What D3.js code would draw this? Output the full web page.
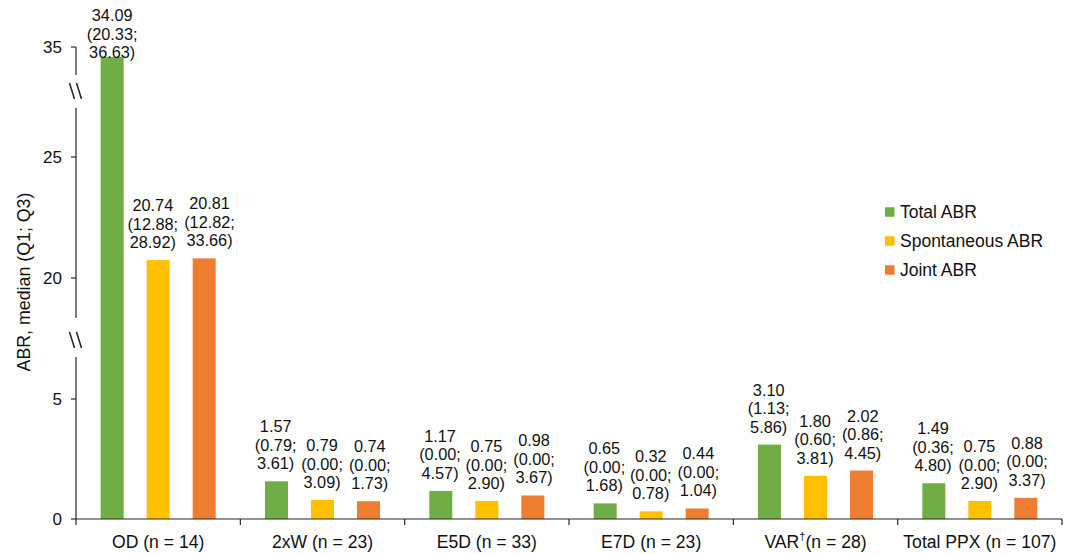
<!DOCTYPE html>
<html>
<head>
<meta charset="utf-8">
<script src="https://cdn.jsdelivr.net/npm/d3@7"></script>
<style>
  html, body { margin: 0; padding: 0; background: #fff; }
  svg { display: block; font-family: "Liberation Sans", Arial, Helvetica, sans-serif; }
</style>
</head>
<body>
<svg id="chart" width="1075" height="554"></svg>
<script>
// ---------- data ----------
const categoryNames = ["OD", "2xW", "E5D", "E7D", "VAR", "Total PPX"];
const categoryN = [14, 23, 33, 23, 28, 107];
const categoryMarks = ["", "", "", "", "\u2020", ""];

const seriesNames = ["Total ABR", "Spontaneous ABR", "Joint ABR"];
const seriesColors = ["#70AD47", "#FFC000", "#ED7D31"];

const totalMedian = [34.09, 1.57, 1.17, 0.65, 3.10, 1.49];
const totalQ1     = [20.33, 0.79, 0.00, 0.00, 1.13, 0.36];
const totalQ3     = [36.63, 3.61, 4.57, 1.68, 5.86, 4.80];

const spontMedian = [20.74, 0.79, 0.75, 0.32, 1.80, 0.75];
const spontQ1     = [12.88, 0.00, 0.00, 0.00, 0.60, 0.00];
const spontQ3     = [28.92, 3.09, 2.90, 0.78, 3.81, 2.90];

const jointMedian = [20.81, 0.74, 0.98, 0.44, 2.02, 0.88];
const jointQ1     = [12.82, 0.00, 0.00, 0.00, 0.86, 0.00];
const jointQ3     = [33.66, 1.73, 3.67, 1.04, 4.45, 3.37];

const yTicks = [0, 5, 20, 25, 35];
const yTitle = "ABR, median (Q1; Q3)";

// ---------- layout ----------
const svg = d3.select("#chart");
const axisColor = "#262626";
const textColor = "#111";
const x0 = 76, x1 = 1062, yBase = 519;

const medians = [totalMedian, spontMedian, jointMedian];
const q1s = [totalQ1, spontQ1, jointQ1];
const q3s = [totalQ3, spontQ3, jointQ3];

const rows = [];
categoryNames.forEach((c, ci) => {
  seriesNames.forEach((s, si) => {
    rows.push({ cat: c, ci, series: s, si, med: medians[si][ci], q1: q1s[si][ci], q3: q3s[si][ci] });
  });
});

// broken (piecewise) y scale
const y = d3.scaleLinear().domain(yTicks).range([yBase, 399, 278, 157, 47]);

const xCat = d3.scaleBand().domain(categoryNames).range([x0, x1]).paddingInner(0).paddingOuter(0);
const bw = xCat.bandwidth();
const xSer = d3.scaleBand().domain(seriesNames)
  .range([bw / 2 - 69, bw / 2 + 69]).paddingInner(0.5).paddingOuter(0.25);

// ---------- bars ----------
svg.append("g").selectAll("rect").data(rows).join("rect")
  .attr("x", d => xCat(d.cat) + xSer(d.series))
  .attr("y", d => y(d.med))
  .attr("width", xSer.bandwidth())
  .attr("height", d => yBase - y(d.med))
  .attr("fill", d => seriesColors[d.si]);

// ---------- value labels ----------
const f = d3.format(".2f");
const lineH = 18.5;
const labG = svg.append("g").attr("font-size", 16.3).attr("fill", textColor).attr("text-anchor", "middle");
const labels = [];
rows.forEach(d => {
  const cx = xCat(d.cat) + xSer(d.series) + xSer.bandwidth() / 2;
  const lastBase = Math.max(y(d.med) - 12, 21 + 2 * lineH);
  const lines = [f(d.med), "(" + f(d.q1) + ";", f(d.q3) + ")"];
  const t = labG.append("text");
  const spans = lines.map((l, i) =>
    t.append("tspan").attr("x", cx).attr("y", lastBase - (2 - i) * lineH).text(l));
  const w = d3.max(spans, s => s.node().getComputedTextLength());
  labels.push({ d, t, spans, cx, w, top: lastBase - 2 * lineH - 13, bottom: lastBase + 4 });
});
// simple collision avoidance between neighbouring labels in a group
const gap = 6;
categoryNames.forEach(c => {
  const L = labels.filter(l => l.d.cat === c);
  for (let i = 0; i < L.length - 1; i++) {
    const a = L[i], b = L[i + 1];
    const vOverlap = a.top < b.bottom && b.top < a.bottom;
    const need = (a.cx + a.w / 2 + gap) - (b.cx - b.w / 2);
    if (vOverlap && need > 0) { a.cx -= need / 2; b.cx += need / 2; }
  }
  L.forEach(l => l.spans.forEach(s => s.attr("x", l.cx)));
});

// ---------- y axis (with breaks) ----------
const axG = svg.append("g").attr("stroke", axisColor).attr("stroke-width", 1.2).attr("fill", "none");
const segments = [[y(35), 75], [108, 318], [357, yBase]];
segments.forEach(s => {
  axG.append("line").attr("x1", x0).attr("x2", x0).attr("y1", s[0]).attr("y2", s[1]);
});
// break marks
[91, 340].forEach(cy => {
  [-4, 3].forEach(dx => {
    axG.append("line")
      .attr("x1", x0 + dx - 2.5).attr("y1", cy - 8)
      .attr("x2", x0 + dx + 2.5).attr("y2", cy + 8)
      .attr("stroke-width", 1.6);
  });
});
// y ticks
yTicks.forEach(v => {
  axG.append("line").attr("x1", x0 - 5).attr("x2", x0).attr("y1", y(v)).attr("y2", y(v));
});
svg.append("g").attr("font-size", 17).attr("fill", textColor).attr("text-anchor", "end")
  .selectAll("text").data(yTicks).join("text")
  .attr("x", 62).attr("y", d => y(d)).attr("dy", "0.35em").text(d => d);

// y title
svg.append("text")
  .attr("transform", "translate(30,282) rotate(-90)")
  .attr("text-anchor", "middle").attr("font-size", 17.8).attr("fill", textColor)
  .text(yTitle);

// ---------- x axis ----------
axG.append("line").attr("x1", x0).attr("x2", x1).attr("y1", yBase).attr("y2", yBase);
const bounds = categoryNames.map(c => xCat(c)).concat([x1]);
bounds.forEach(bx => {
  axG.append("line").attr("x1", bx).attr("x2", bx).attr("y1", yBase).attr("y2", yBase + 6);
});
const catG = svg.append("g").attr("font-size", 17.6).attr("fill", textColor).attr("text-anchor", "middle");
categoryNames.forEach((c, i) => {
  const t = catG.append("text").attr("x", xCat(c) + bw / 2).attr("y", 548);
  if (categoryMarks[i]) {
    t.append("tspan").text(c);
    t.append("tspan").attr("font-size", 11).attr("dy", -8).text(categoryMarks[i]);
    t.append("tspan").attr("dy", 8).text("(n = " + categoryN[i] + ")");
  } else {
    t.text(c + " (n = " + categoryN[i] + ")");
  }
});

// ---------- legend ----------
const leg = svg.append("g");
seriesNames.forEach((s, i) => {
  const cy = 212 + i * 29;
  leg.append("rect").attr("x", 885).attr("y", cy - 4.75).attr("width", 9.5).attr("height", 9.5).attr("fill", seriesColors[i]);
  leg.append("text").attr("x", 900).attr("y", cy).attr("dy", "0.35em")
    .attr("font-size", 17.5).attr("fill", textColor).text(s);
});
</script>
</body>
</html>
